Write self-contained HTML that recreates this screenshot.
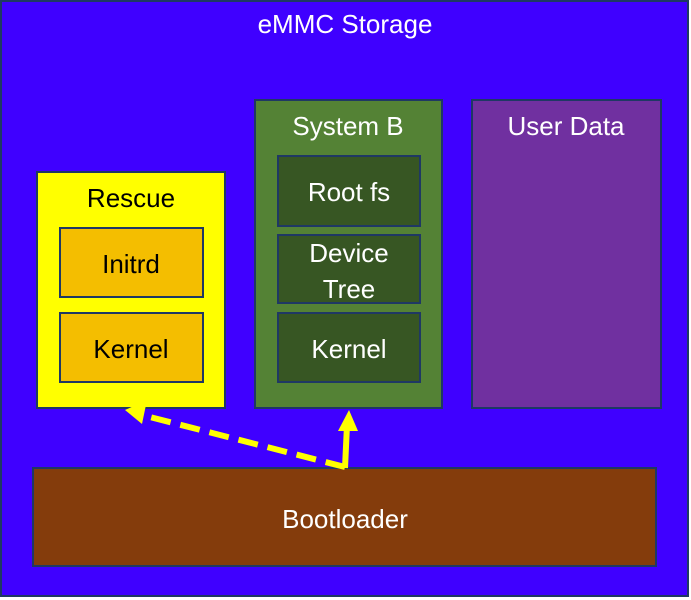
<!DOCTYPE html>
<html><head><style>body{margin:0;background:#fff}svg{display:block}text{font-family:"Liberation Sans",sans-serif;font-size:26px;text-anchor:middle}</style></head><body>
<svg width="691" height="600" xmlns="http://www.w3.org/2000/svg">
<rect x="1" y="1" width="687" height="595" fill="#3F00FF" stroke="#1F3864" stroke-width="2"/>
<text x="345" y="33" fill="#fff">eMMC Storage</text>
<rect x="37" y="172" width="188" height="236" fill="#FFFF00" stroke="#1F3864" stroke-width="2"/>
<text x="131" y="207" fill="#000">Rescue</text>
<rect x="60" y="228" width="143" height="69" fill="#F4BE00" stroke="#1F3864" stroke-width="2"/>
<text x="131" y="273" fill="#000">Initrd</text>
<rect x="60" y="313" width="143" height="69" fill="#F4BE00" stroke="#1F3864" stroke-width="2"/>
<text x="131" y="358" fill="#000">Kernel</text>
<rect x="255" y="100" width="187" height="308" fill="#548235" stroke="#1F3864" stroke-width="2"/>
<text x="348" y="135" fill="#fff">System B</text>
<rect x="278" y="156" width="142" height="70" fill="#375623" stroke="#1F3864" stroke-width="2"/>
<text x="349" y="201" fill="#fff">Root fs</text>
<rect x="278" y="235" width="142" height="68" fill="#375623" stroke="#1F3864" stroke-width="2"/>
<text x="349" y="262" fill="#fff">Device</text>
<text x="349" y="298" fill="#fff">Tree</text>
<rect x="278" y="313" width="142" height="69" fill="#375623" stroke="#1F3864" stroke-width="2"/>
<text x="349" y="358" fill="#fff">Kernel</text>
<rect x="472" y="100" width="189" height="308" fill="#7030A0" stroke="#1F3864" stroke-width="2"/>
<text x="566" y="135" fill="#fff">User Data</text>
<rect x="33" y="468" width="623" height="98" fill="#843C0C" stroke="#1F3864" stroke-width="2"/>
<text x="345" y="528" fill="#fff">Bootloader</text>
<path d="M345 467 L142 415" stroke="#FFFF00" stroke-width="6" stroke-dasharray="20 10" fill="none"/>
<polygon points="125,410 147,400 142,424" fill="#FFFF00"/>
<path d="M345 468 L347 425" stroke="#FFFF00" stroke-width="6" fill="none"/>
<polygon points="349,410 338,431 358,431" fill="#FFFF00"/>
</svg>
</body></html>
